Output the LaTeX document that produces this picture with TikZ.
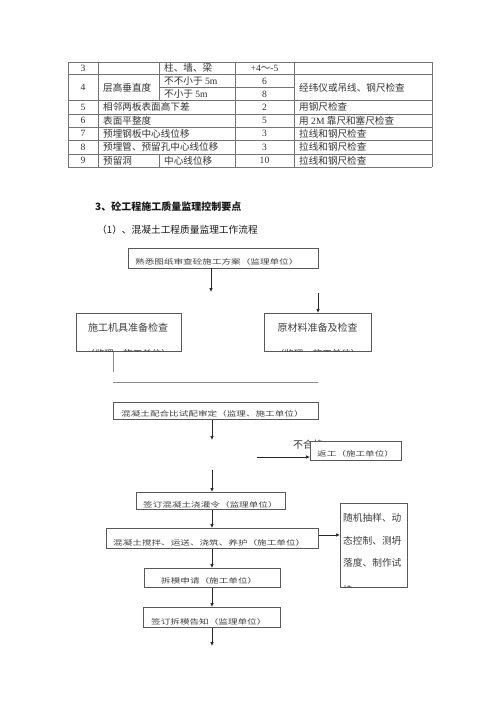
\documentclass[tikz,border=0pt]{standalone}
\usepackage{fontspec}
\usepackage{graphicx}
\setmainfont{Liberation Serif}
\newfontfamily\cjk{Noto Sans CJK SC}
\usetikzlibrary{arrows.meta}
\newcommand\sqz[1]{\scalebox{1}[0.72]{#1}}
\begin{document}
\begin{tikzpicture}[x=1pt,y=-1pt,
  tline/.style={draw=black!55, line width=0.6pt},
  boxst/.style={draw=black!65, line width=0.8pt, fill=white, inner sep=0pt},
  arr/.style={draw=black!85, line width=0.7pt, -{Latex[length=4pt,width=3.5pt]}},
  plainln/.style={draw=black!45, line width=1pt},
  ttxt/.style={font=\fontsize{9.6}{10}\selectfont, text=black!80, inner sep=0pt},
  btxt/.style={font=\fontsize{9.6}{10}\selectfont\cjk, text=black!75, inner sep=0pt, anchor=west},
  htxt/.style={font=\fontsize{10}{12}\selectfont\cjk, text=black!90, inner sep=0pt, anchor=west}
]
\useasboundingbox (0,0) rectangle (500,707);
\fill[white] (0,0) rectangle (500,707);

% ---------- table ----------
\foreach \yy in {62,74.5,100.5,114,127,140.5,154,167}
  \draw[tline] (68,\yy) -- (432,\yy);
\draw[tline] (159,87.5) -- (294,87.5);
\foreach \xx in {68,98,235,294,432}
  \draw[tline] (\xx,62) -- (\xx,167);
\draw[tline] (159,62) -- (159,100.5);
\draw[tline] (159,154) -- (159,167);

% row 3
\node[ttxt] (r3a) at (83,68.3) {3};
\node[ttxt,anchor=west] (r3b) at (164,68.3) {\cjk 柱、墙、梁};
\node[ttxt] (r3c) at (264.5,68.3) {+4{\cjk ～}-5};
% row 4
\node[ttxt] (r4a) at (83,87.5) {4};
\node[ttxt,anchor=west] (r4b) at (103,87.5) {\cjk 层高垂直度};
\node[ttxt,anchor=west] (r4c) at (164,81) {{\cjk 不不小于} 5m};
\node[ttxt,anchor=west] (r4d) at (164,94) {{\cjk 不小于} 5m};
\node[ttxt] (r4e) at (264.5,81) {6};
\node[ttxt] (r4f) at (264.5,94) {8};
\node[ttxt,anchor=west] (r4g) at (299,87.5) {\cjk 经纬仪或吊线、钢尺检查};
% row 5
\node[ttxt] (r5a) at (83,107.2) {5};
\node[ttxt,anchor=west] (r5b) at (103,107.2) {\cjk 相邻两板表面高下差};
\node[ttxt] (r5c) at (264.5,107.2) {2};
\node[ttxt,anchor=west] (r5d) at (299,107.2) {\cjk 用钢尺检查};
% row 6
\node[ttxt] (r6a) at (83,120.5) {6};
\node[ttxt,anchor=west] (r6b) at (103,120.5) {\cjk 表面平整度};
\node[ttxt] (r6c) at (264.5,120.5) {5};
\node[ttxt,anchor=west] (r6d) at (299,120.5) {{\cjk 用} 2M {\cjk 靠尺和塞尺检查}};
% row 7
\node[ttxt] (r7a) at (83,133.7) {7};
\node[ttxt,anchor=west] (r7b) at (103,133.7) {\cjk 预埋钢板中心线位移};
\node[ttxt] (r7c) at (264.5,133.7) {3};
\node[ttxt,anchor=west] (r7d) at (299,133.7) {\cjk 拉线和钢尺检查};
% row 8
\node[ttxt] (r8a) at (83,147.2) {8};
\node[ttxt,anchor=west] (r8b) at (103,147.2) {\cjk 预埋管、预留孔中心线位移};
\node[ttxt] (r8c) at (264.5,147.2) {3};
\node[ttxt,anchor=west] (r8d) at (299,147.2) {\cjk 拉线和钢尺检查};
% row 9
\node[ttxt] (r9a) at (83,160.5) {9};
\node[ttxt,anchor=west] (r9b) at (103,160.5) {\cjk 预留洞};
\node[ttxt,anchor=west] (r9c) at (164,160.5) {\cjk 中心线位移};
\node[ttxt] (r9d) at (264.5,160.5) {10};
\node[ttxt,anchor=west] (r9e) at (299,160.5) {\cjk 拉线和钢尺检查};

% ---------- headings ----------
\node[htxt,font=\fontsize{10}{12}\selectfont\cjk\bfseries] (h1) at (95,207) {3、砼工程施工质量监理控制要点};
\node[htxt,font=\fontsize{9.7}{12}\selectfont\cjk] (h2) at (97,230) {（1）、混凝土工程质量监理工作流程};

% ---------- flowchart ----------
\node[ttxt,anchor=west,font=\fontsize{10}{12}\selectfont\cjk] (ng) at (293,445) {不合格};

\node[boxst,anchor=north west,minimum width=190pt,minimum height=20pt] (b1) at (128,247.5) {};
\node[boxst,anchor=north west,minimum width=105pt,minimum height=38pt] (b2) at (76,313) {};
\node[boxst,anchor=north west,minimum width=107pt,minimum height=38pt] (b3) at (264,313) {};
\node[boxst,anchor=north west,minimum width=205pt,minimum height=17pt] (b4) at (113,402) {};
\node[boxst,anchor=north west,minimum width=91pt,minimum height=19pt] (b5) at (310,441) {};
\node[boxst,anchor=north west,minimum width=149pt,minimum height=17pt] (b6) at (136,492) {};
\node[boxst,anchor=north west,minimum width=212pt,minimum height=20pt] (b7) at (106,528) {};
\node[boxst,anchor=north west,minimum width=67pt,minimum height=84pt] (b8) at (340,503) {};
\node[boxst,anchor=north west,minimum width=136pt,minimum height=19pt] (b9) at (144,568) {};
\node[boxst,anchor=north west,minimum width=137pt,minimum height=20pt] (b10) at (143,607) {};

% box texts
\node[btxt] (t1) at (135,261.5) {\sqz{熟悉图纸审查砼施工方案（监理单位）}};
\node[btxt,anchor=center,font=\fontsize{10}{12}\selectfont\cjk] (t2) at (128,328) {施工机具准备检查};
\node[btxt,anchor=center,font=\fontsize{10}{12}\selectfont\cjk] (t3) at (317.5,328) {原材料准备及检查};
\begin{scope}
  \clip (b2.north west) rectangle ([yshift=0.6pt]b2.south east);
  \node[btxt,anchor=center,font=\fontsize{9.5}{12}\selectfont\cjk] (t2b) at (128,353.8) {（监理、施工单位）};
\end{scope}
\begin{scope}
  \clip (b3.north west) rectangle ([yshift=0.6pt]b3.south east);
  \node[btxt,anchor=center,font=\fontsize{9.5}{12}\selectfont\cjk] (t3b) at (317.5,353.8) {（监理、施工单位）};
\end{scope}
\node[btxt] (t4) at (121,414) {\sqz{混凝土配合比试配审定（监理、施工单位）}};
\node[btxt] (t5) at (317,453.5) {\sqz{返工（施工单位）}};
\node[btxt] (t6) at (143,504.5) {\sqz{签订混凝土浇灌令（监理单位）}};
\node[btxt] (t7) at (113,542.5) {\sqz{混凝土搅拌、运送、浇筑、养护（施工单位）}};
\node[btxt] (t9) at (161,581) {\sqz{拆模申请（施工单位）}};
\node[btxt] (t10) at (151,621.5) {\sqz{签订拆模告知（监理单位）}};
\node[btxt,font=\fontsize{9.7}{12}\selectfont\cjk] (t8a) at (343,518) {随机抽样、动};
\node[btxt,font=\fontsize{9.7}{12}\selectfont\cjk] (t8b) at (343,541) {态控制、测坍};
\node[btxt,font=\fontsize{9.7}{12}\selectfont\cjk] (t8c) at (343,563) {落度、制作试};
\begin{scope}
  \clip (b8.north west) rectangle ([yshift=0.6pt]b8.south east);
  \node[btxt,font=\fontsize{9.7}{12}\selectfont\cjk] (t8d) at (343,589.6) {块};
\end{scope}

% connectors
\coordinate (a1e) at (211,292);
\draw[arr] (a1e |- b1.south) -- (a1e);
\coordinate (a2s) at (318,293);
\draw[arr] (a2s) -- (a2s |- b3.north);
\coordinate (l1e) at (113,372);
\draw[plainln] (l1e |- b2.south) -- (l1e);
\coordinate (h1s) at (113,382);
\coordinate (h1e) at (318,382);
\draw[plainln] (h1s) -- (h1e);
\coordinate (a3e) at (212,440);
\draw[arr] (a3e |- b4.south) -- (a3e);
\coordinate (a4s) at (257,457);
\draw[arr] (a4s) -- (a4s -| b5.west);
\coordinate (a5s) at (212,470);
\draw[arr] (a5s) -- (a5s |- b6.north);
\draw[arr] (a5s |- b6.south) -- (a5s |- b7.north);
\coordinate (a6) at (318,535);
\draw[arr] (a6 -| b7.east) -- (a6 -| b8.west);
\draw[arr] (a5s |- b7.south) -- (a5s |- b9.north);
\draw[arr] (a5s |- b9.south) -- (a5s |- b10.north);
\coordinate (a7e) at (212,646);
\draw[arr] (a7e |- b10.south) -- (a7e);
\end{tikzpicture}
\end{document}
